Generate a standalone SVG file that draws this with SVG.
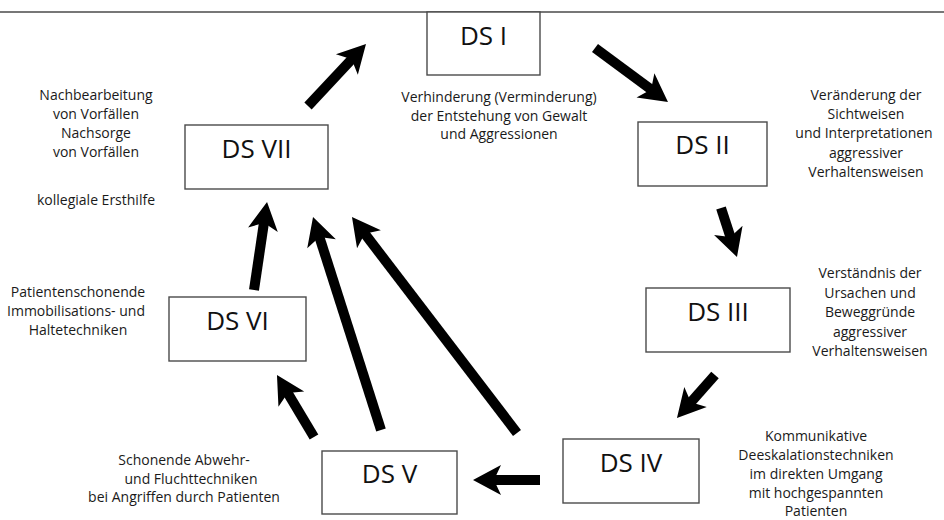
<svg xmlns="http://www.w3.org/2000/svg" width="944" height="520" viewBox="0 0 944 520">
<style>
.box{fill:#fff;stroke:#4a4a4a;stroke-width:1.4}
.ds{font-family:"Open Sans","Noto Sans","Liberation Sans",sans-serif;font-size:26px;fill:#111;text-anchor:middle}
.lb{font-family:"Open Sans","Noto Sans","Liberation Sans",sans-serif;font-size:14px;fill:#1a1a1a;text-anchor:middle}
.ar{stroke:#000;stroke-width:10;fill:none;marker-end:url(#ah)}
</style>
<defs>
<marker id="ah" viewBox="0 0 30 32" refX="10" refY="16" markerWidth="30" markerHeight="32" orient="auto" markerUnits="userSpaceOnUse" overflow="visible">
<path d="M0,1 L28,16 L0,31 L7,16 Z" fill="#000"/>
</marker>
</defs>
<rect width="944" height="520" fill="#fff"/>
<line x1="0" y1="12" x2="944" y2="12" stroke="#4a4a4a" stroke-width="1.4"/>
<g id="connectors">
<line class="ar" x1="308" y1="106" x2="353.7" y2="57.1"/>
<line class="ar" x1="595" y1="48" x2="653.5" y2="91.3"/>
<line class="ar" x1="721" y1="208" x2="731.4" y2="239.9"/>
<line class="ar" x1="715" y1="375" x2="688.9" y2="404.5"/>
<line class="ar" x1="540" y1="480" x2="491" y2="480"/>
<line class="ar" x1="314" y1="437" x2="286.2" y2="390.5"/>
<line class="ar" x1="254" y1="290" x2="264.4" y2="219.8"/>
<line class="ar" x1="381" y1="430" x2="318.5" y2="234.2"/>
<line class="ar" x1="517" y1="433" x2="362.9" y2="231.3"/>
</g>
<g id="ds1">
<rect class="box" x="427" y="12" width="113" height="63"/>
<text class="ds" x="483.5" y="45">DS I</text>
<text class="lb" x="499" y="102">Verhinderung (Verminderung)</text>
<text class="lb" x="499" y="120.5">der Entstehung von Gewalt</text>
<text class="lb" x="499" y="139">und Aggressionen</text>
</g>
<g id="ds2">
<rect class="box" x="638" y="122" width="129" height="64"/>
<text class="ds" x="702.5" y="154">DS II</text>
<text class="lb" x="866" y="100">Veränderung der</text>
<text class="lb" x="866" y="119">Sichtweisen</text>
<text class="lb" x="864" y="138">und Interpretationen</text>
<text class="lb" x="866" y="157.5">aggressiver</text>
<text class="lb" x="866" y="176.5">Verhaltensweisen</text>
</g>
<g id="ds3">
<rect class="box" x="646" y="288" width="144" height="64"/>
<text class="ds" x="718" y="321">DS III</text>
<text class="lb" x="870" y="278">Verständnis der</text>
<text class="lb" x="870" y="297.5">Ursachen und</text>
<text class="lb" x="870" y="317">Beweggründe</text>
<text class="lb" x="870" y="336.5">aggressiver</text>
<text class="lb" x="870" y="356">Verhaltensweisen</text>
</g>
<g id="ds4">
<rect class="box" x="563" y="439" width="136" height="64"/>
<text class="ds" x="631" y="472">DS IV</text>
<text class="lb" x="816" y="441">Kommunikative</text>
<text class="lb" x="816" y="460">Deeskalationstechniken</text>
<text class="lb" x="816" y="479">im direkten Umgang</text>
<text class="lb" x="816" y="498">mit hochgespannten</text>
<text class="lb" x="816" y="516">Patienten</text>
</g>
<g id="ds5">
<rect class="box" x="322" y="451" width="135" height="63"/>
<text class="ds" x="389.5" y="483">DS V</text>
<text class="lb" x="184" y="465">Schonende Abwehr-</text>
<text class="lb" x="191" y="483.5">und Fluchttechniken</text>
<text class="lb" x="184" y="502">bei Angriffen durch Patienten</text>
</g>
<g id="ds6">
<rect class="box" x="169" y="297" width="137" height="64"/>
<text class="ds" x="237.5" y="330">DS VI</text>
<text class="lb" x="78" y="296.5">Patientenschonende</text>
<text class="lb" x="76" y="315.5">Immobilisations- und</text>
<text class="lb" x="78" y="334.5">Haltetechniken</text>
</g>
<g id="ds7">
<rect class="box" x="185" y="125" width="143" height="64"/>
<text class="ds" x="256.5" y="158">DS VII</text>
<text class="lb" x="96" y="99.5">Nachbearbeitung</text>
<text class="lb" x="96" y="118.5">von Vorfällen</text>
<text class="lb" x="96" y="137.5">Nachsorge</text>
<text class="lb" x="96" y="156.5">von Vorfällen</text>
<text class="lb" x="96" y="205">kollegiale Ersthilfe</text>
</g>
</svg>
